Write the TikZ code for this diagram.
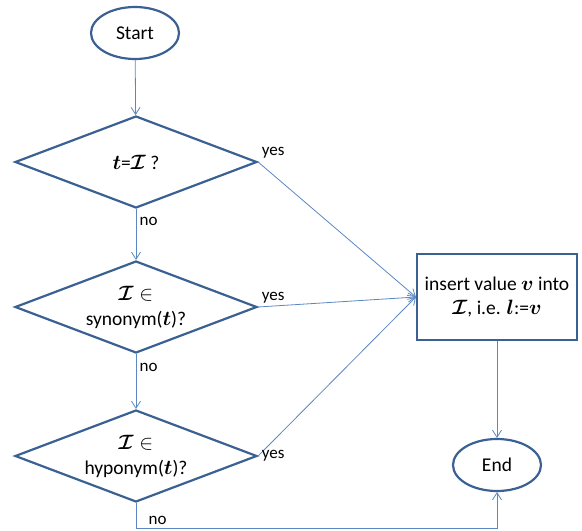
\documentclass[tikz,border=0pt]{standalone}
\usepackage{amsmath}
\usepackage{bm}
\usepackage{fontspec}
\setmainfont{Carlito}
\usepackage{tikz}
\usetikzlibrary{arrows.meta, positioning, shapes.geometric}

\definecolor{shapeblue}{HTML}{3A6191}
\definecolor{lineblue}{HTML}{5B87C2}

\begin{document}
\begin{tikzpicture}[
    x=1pt, y=-1pt,
    font=\fontsize{19.5}{24}\selectfont,
    terminal/.style={ellipse, draw=shapeblue, line width=2.2pt, minimum width=88pt, minimum height=52pt, inner sep=1pt},
    decision/.style={diamond, draw=shapeblue, line width=2.2pt, aspect=2.57, inner sep=0pt, minimum width=242pt, minimum height=92pt, align=center},
    box/.style={rectangle, draw=shapeblue, line width=2.2pt, minimum width=160pt, minimum height=86pt, inner sep=2pt, align=center},
    arrow/.style={-{Straight Barb[length=7pt, width=9pt]}, draw=lineblue, line width=0.8pt},
    lbl/.style={font=\fontsize{17}{19}\selectfont}
  ]
    \useasboundingbox (0,0) rectangle (582,531);
    \node[terminal] (start) at (135,33) {Start};
    \node[decision] (tval) at (136,162) {$\bm{t}$=$\bm{\mathcal{I}}$ ?};
    \node[decision] (syn) at (136,307) {$\bm{\mathcal{I}}\in$\\[1pt]synonym($\bm{t}$)?};
    \node[decision] (hypo) at (136,456) {$\bm{\mathcal{I}}\in$\\[1pt]hyponym($\bm{t}$)?};
    \node[box] (insert) at (497,297) {insert value $\bm{v}$ into\\$\bm{\mathcal{I}}$, i.e. $\bm{l}$:=$\bm{v}$};
    \node[terminal] (end) at (497,465) {End};
    \coordinate (corner1) at (136,528);
    \coordinate (corner2) at (497,528);

    \draw[arrow] (start) -- (tval);
    \draw[arrow] (tval) -- node[lbl, right, pos=0.25] {no} (syn);
    \draw[arrow] (syn) -- node[lbl, right, pos=0.25] {no} (hypo);
    \draw[arrow] (tval.east) -- node[lbl, pos=0, above right] {yes} (insert.west);
    \draw[arrow] (syn.east) -- node[lbl, pos=0, above right] {yes} (insert.west);
    \draw[arrow] (hypo.east) -- node[lbl, pos=0, right] {yes} (insert.west);
    \draw[arrow] (insert) -- (end);
    \draw[arrow] (hypo.south) -- (corner1) -- node[lbl, pos=0.06, above] {no} (corner2) -- (end.south);
  \end{tikzpicture}
\end{document}
